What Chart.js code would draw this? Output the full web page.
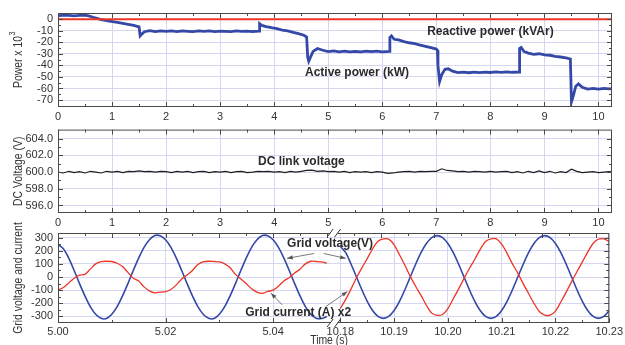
<!DOCTYPE html>
<html>
<head>
<meta charset="utf-8">
<script src="https://cdn.jsdelivr.net/npm/chart.js@4/dist/chart.umd.min.js"></script>
<style>
  body { margin: 0; background: #fff; width: 625px; height: 345px; position: relative; overflow: hidden; }
  canvas { position: absolute; left: 0; }
</style>
</head>
<body>
<canvas id="powerChart" width="625" height="125" style="top:0"></canvas>
<canvas id="dcChart" width="625" height="112" style="top:118px"></canvas>
<canvas id="gridChart" width="625" height="125" style="top:220px"></canvas>

<script>
// ===== top panel: power (x 10^3) =====
const powerTime = [
  0, 0.15, 0.3, 0.45, 0.55, 0.65, 0.8, 0.95, 1.1, 1.25, 1.4, 1.5, 1.52, 1.55, 1.6, 1.7,
  1.8, 1.9, 2.0, 2.1, 2.2, 2.3, 2.4, 2.5, 2.6, 2.7, 2.8, 2.9, 3.0, 3.1, 3.2, 3.3, 3.4, 3.5, 3.6, 3.72,
  3.73, 3.77, 3.85, 3.95, 4.05, 4.15, 4.25, 4.35, 4.45, 4.55, 4.6, 4.62, 4.64, 4.68, 4.72, 4.8, 4.9,
  5.0, 5.1, 5.2, 5.3, 5.4, 5.5, 5.6, 5.7, 5.8, 5.9, 6.0, 6.13, 6.14, 6.17, 6.22, 6.3, 6.4, 6.5,
  6.6, 6.7, 6.8, 6.9, 7.0, 7.02, 7.03, 7.06, 7.1, 7.16, 7.22, 7.3, 7.4, 7.5, 7.6, 7.7, 7.8, 7.9,
  8.0, 8.1, 8.2, 8.3, 8.4, 8.53, 8.54, 8.57, 8.62, 8.7, 8.8, 8.9, 9.0, 9.1, 9.2, 9.3, 9.4, 9.48,
  9.5, 9.53, 9.58, 9.63, 9.7, 9.8, 9.9, 10.0, 10.1, 10.2, 10.25
];
const activePower = [
  3.0, 3.4, 2.8, 3.3, 3.0, 1.5, -0.5, -1.8, -3.0, -4.2, -5.5, -6.8, -14.5, -13.0, -11.0, -10.0,
  -10.8, -10.2, -10.7, -10.3, -10.8, -10.2, -10.6, -10.9, -10.3, -10.7, -10.2, -10.8, -10.4, -10.6, -10.9, -10.3, -10.7, -10.4, -10.8, -10.5,
  -4.0, -5.5, -6.5, -7.5, -8.3, -9.5, -10.3, -11.5, -12.6, -14.0, -15.5, -33.0, -36.5, -32.0, -28.0, -25.5, -27.0,
  -28.2, -27.6, -28.3, -27.8, -28.4, -27.9, -28.3, -27.7, -28.2, -27.8, -28.3, -28.0, -16.0, -14.5, -17.5, -18.0, -19.5, -20.5,
  -21.3, -22.5, -23.6, -24.8, -26.0, -27.0, -40.0, -54.0, -48.0, -43.5, -43.0, -45.0, -46.3, -45.8, -46.4, -45.9, -46.3, -45.8,
  -46.2, -45.7, -46.1, -45.6, -46.0, -45.8, -25.5, -24.5, -28.0, -29.5, -30.5, -30.0, -31.0, -31.3, -32.2, -32.8, -33.5, -34.5,
  -71.5, -67.0, -58.0, -56.0, -59.0, -60.6, -60.0, -60.5, -60.0, -60.4, -60.2
];
const reactiveTime = [0, 2.5, 5, 7.5, 10.25];
const reactivePower = [-0.2, -0.2, -0.2, -0.2, -0.2];
const powerTicks = [0, -10, -20, -30, -40, -50, -60, -70];
const timeTicks = [0, 1, 2, 3, 4, 5, 6, 7, 8, 9, 10];

// ===== middle panel: DC link voltage, one sample every 0.1 s =====
const dcVoltage = [
  600.0, 599.9, 600.1, 599.95, 600.05, 599.9, 600.1, 600.0, 599.9, 600.1,
  600.0, 600.1, 599.95, 600.1, 600.05, 600.15, 600.05, 600.1, 600.0, 600.1,
  600.05, 599.95, 600.1, 600.0, 600.1, 599.95, 600.05, 600.1, 599.95, 600.05,
  600.0, 600.1, 599.95, 600.05, 600.1, 599.95, 600.0, 600.1, 600.05, 600.1,
  600.0, 600.05, 599.95, 600.1, 600.0, 600.1, 600.2, 600.25, 600.1, 600.15,
  600.05, 600.1, 600.0, 600.1, 599.95, 600.05, 600.0, 600.05, 599.95, 600.05,
  600.0, 599.85, 599.9, 600.0, 600.05, 600.1, 600.0, 600.1, 600.05, 600.1,
  600.1, 600.4, 600.2, 600.15, 600.05, 600.1, 600.0, 600.1, 600.05, 600.0,
  600.1, 600.0, 600.05, 600.1, 599.95, 600.05, 599.9, 600.1, 599.95, 600.15,
  599.95, 600.1, 599.9, 600.05, 599.95, 600.35, 600.1, 599.95, 600.0, 600.05,
  599.95, 600.0, 600.05, 600.0
];
const dcTime = dcVoltage.map((v, i) => Math.min(i * 0.1, 10.25));
const dcTicks = [604, 602, 600, 598, 596];

// ===== bottom panel: grid voltage / current (x2), two 50 ms windows, 1 ms samples =====
const gridVoltageA = [
  250, 215, 144, 50, -50, -144, -225, -283, -314, -316,
  -283, -225, -144, -50, 50, 144, 225, 283, 316, 314,
  283, 225, 144, 50, -50, -144, -225, -283, -314, -316,
  -283, -225, -144, -50, 50, 144, 225, 283, 316, 314,
  283, 225, 144, 50, -50, -144, -225, -283, -314, -316,
  -300
];
const gridCurrentA = [
  -100, -80, -45, -10, 15, 20, 60, 100, 118, 120,
  118, 105, 80, 35, -10, -30, -75, -105, -120, -115,
  -112, -95, -60, -15, 15, 50, 95, 115, 120, 118,
  115, 100, 70, 20, -15, -50, -90, -115, -125, -110,
  -100, -70, -30, -5, 30, 60, 100, 120, 118, 115,
  105
];
const gridVoltageB = [
  235, 185, 97, 0, -97, -185, -255, -300, -315, -300,
  -255, -185, -97, 0, 97, 185, 255, 300, 315, 300,
  255, 185, 97, 0, -97, -185, -255, -300, -315, -300,
  -255, -185, -97, 0, 97, 185, 255, 300, 315, 300,
  255, 185, 97, 0, -97, -185, -255, -300, -315, -300,
  -255
];
const gridCurrentB = [
  -240, -170, -90, -5, 70, 140, 215, 272, 290, 288,
  245, 170, 90, 5, -70, -140, -215, -275, -292, -285,
  -240, -165, -90, -10, 65, 135, 210, 270, 290, 290,
  250, 180, 100, 30, -50, -125, -200, -262, -290, -290,
  -260, -190, -115, -35, 40, 115, 190, 255, 288, 290,
  270
];
const gridTimeA = gridVoltageA.map((v, i) => 5.0 + i * 0.001);
const gridTimeB = gridVoltageB.map((v, i) => 10.18 + i * 0.001);
const gridTicks = [300, 200, 100, 0, -100, -200, -300];
const gridTickTimes = [5.00, 5.02, 5.04, 10.18, 10.19, 10.20, 10.21, 10.22, 10.23];

const BLUE = '#3448a8';
const RED = '#ee3527';
const GRID = '#d6d6f0';
const FRAME = '#4a4a4a';

Chart.defaults.font.family = "'Liberation Sans', Arial, sans-serif";
Chart.defaults.font.size = 11;
Chart.defaults.color = '#333';

// broken time axis of the bottom panel: 5.00-5.05 s, then 10.18-10.23 s
const brokenAxis = t => t < 7 ? (t - 5) * 100 : (t - 10.23) * 100 + 10.25;

function mids(vals) {
  const out = [];
  for (let i = 0; i < vals.length - 1; i++) out.push((vals[i] + vals[i + 1]) / 2);
  return out;
}

function pts(xs, ys, f) {
  return xs.map((x, i) => ({ x: f ? f(x) : x, y: ys[i] }));
}

function xAxis(ticks, labels, height, pad) {
  return {
    type: 'linear', min: 0, max: 10.25,
    afterBuildTicks: s => { s.ticks = ticks.map(v => ({ value: v })); },
    afterFit: s => { s.height = height; },
    grid: { color: GRID, drawTicks: false },
    border: { display: false },
    ticks: { padding: pad, maxRotation: 0, autoSkip: false, font: { size: 11 },
             callback: (v, i) => labels[i] }
  };
}

function yAxis(min, max, ticks, fmt) {
  return {
    type: 'linear', min, max,
    afterBuildTicks: s => { s.ticks = ticks.map(v => ({ value: v })); },
    afterFit: s => { s.width = 58; },
    grid: { color: GRID, drawTicks: false },
    border: { display: false },
    ticks: { padding: 5, autoSkip: false, font: { size: 11 }, callback: v => fmt ? fmt(v) : v }
  };
}

// frame, inward ticks, notes, arrows, axis titles
function decor(o) {
  return {
    id: 'decor',
    afterDraw(chart) {
      const { ctx, chartArea: a } = chart;
      const xs = chart.scales.x, ys = chart.scales.y;
      ctx.save();
      ctx.strokeStyle = FRAME;
      ctx.lineWidth = 1;
      ctx.strokeRect(a.left + 0.5, a.top + 0.5, a.right - a.left - 1, a.bottom - a.top - 1);

      const tick = (vals, len, side) => vals.forEach(v => {
        ctx.beginPath();
        if (side === 'top' || side === 'bottom') {
          const x = Math.round(xs.getPixelForValue(v)) + 0.5;
          const y0 = side === 'top' ? a.top : a.bottom;
          ctx.moveTo(x, y0);
          ctx.lineTo(x, y0 + (side === 'top' ? len : -len));
        } else {
          const y = Math.round(ys.getPixelForValue(v)) + 0.5;
          const x0 = side === 'left' ? a.left : a.right;
          ctx.moveTo(x0, y);
          ctx.lineTo(x0 + (side === 'left' ? len : -len), y);
        }
        ctx.stroke();
      });
      tick(o.top, 5, 'top'); tick(mids(o.top), 3, 'top');
      tick(o.bottom, 5, 'bottom'); tick(o.bottomMinor, 3, 'bottom');
      ['left', 'right'].forEach(s => { tick(o.y, 5, s); tick(mids(o.y), 3, s); });

      // break marks
      if (o.breaks) {
        [a.top, a.bottom].forEach(yb => {
          ctx.fillStyle = '#fff';
          const b0 = xs.getPixelForValue(o.breaks[0]), b1 = xs.getPixelForValue(o.breaks[1]);
          ctx.fillRect(b0, yb - 2, b1 - b0, 4);
          ctx.strokeStyle = '#333';
          [b0, b1].forEach(bx => {
            ctx.beginPath();
            ctx.moveTo(bx - 3, yb + 4);
            ctx.lineTo(bx + 3, yb - 4);
            ctx.stroke();
          });
        });
      }

      // arrows
      ctx.strokeStyle = '#555';
      ctx.fillStyle = '#555';
      ctx.lineWidth = 0.8;
      (o.arrows || []).forEach(([x1, y1, x2, y2]) => {
        const p1 = [xs.getPixelForValue(x1), ys.getPixelForValue(y1)];
        const p2 = [xs.getPixelForValue(x2), ys.getPixelForValue(y2)];
        const ang = Math.atan2(p2[1] - p1[1], p2[0] - p1[0]);
        ctx.beginPath();
        ctx.moveTo(p1[0], p1[1]);
        ctx.lineTo(p2[0], p2[1]);
        ctx.stroke();
        ctx.beginPath();
        ctx.moveTo(p2[0], p2[1]);
        ctx.lineTo(p2[0] - 6 * Math.cos(ang - 0.35), p2[1] - 6 * Math.sin(ang - 0.35));
        ctx.lineTo(p2[0] - 6 * Math.cos(ang + 0.35), p2[1] - 6 * Math.sin(ang + 0.35));
        ctx.closePath();
        ctx.fill();
      });

      // notes
      ctx.fillStyle = '#2a2a2a';
      ctx.font = "bold 12px 'Liberation Sans', Arial, sans-serif";
      ctx.textAlign = 'left';
      ctx.textBaseline = 'middle';
      (o.notes || []).forEach(n => ctx.fillText(n.text, xs.getPixelForValue(n.x), ys.getPixelForValue(n.y)));

      // rotated, condensed y title
      const font = "13px 'Liberation Sans', Arial, sans-serif";
      const supFont = "9px 'Liberation Sans', Arial, sans-serif";
      ctx.fillStyle = '#333';
      ctx.translate(18, (a.top + a.bottom) / 2);
      ctx.rotate(-Math.PI / 2);
      ctx.scale(0.8, 1);
      ctx.textAlign = 'left';
      ctx.font = font;
      const w = ctx.measureText(o.yTitle).width;
      let sw = 0;
      if (o.sup) { ctx.font = supFont; sw = ctx.measureText(o.sup).width; }
      ctx.font = font;
      ctx.fillText(o.yTitle, -(w + sw) / 2, 0);
      if (o.sup) {
        ctx.font = supFont;
        ctx.fillText(o.sup, -(w + sw) / 2 + w + 0.5, -5);
      }
      ctx.restore();

      if (o.xTitle) {
        ctx.save();
        ctx.fillStyle = '#333';
        ctx.font = font;
        ctx.textAlign = 'center';
        ctx.textBaseline = 'middle';
        ctx.translate(xs.getPixelForValue(o.xTitle.x), a.bottom + 17);
        ctx.scale(0.8, 1);
        ctx.fillText(o.xTitle.text, 0, 0);
        ctx.restore();
      }
    }
  };
}

const baseOptions = (padTop, x, y) => ({
  responsive: false,
  animation: false,
  layout: { padding: { top: padTop, right: 13, left: 0, bottom: 0 } },
  elements: { point: { radius: 0 }, line: { tension: 0 } },
  plugins: { legend: { display: false }, tooltip: { enabled: false } },
  scales: { x, y }
});

// ----- power -----
new Chart(document.getElementById('powerChart'), {
  type: 'line',
  data: {
    datasets: [
      { data: pts(reactiveTime, reactivePower), borderColor: RED, borderWidth: 2 },
      { data: pts(powerTime, activePower), borderColor: BLUE, borderWidth: 2.8 }
    ]
  },
  options: baseOptions(13,
    xAxis(timeTicks, timeTicks.map(String), 18, 3),
    yAxis(-76, 5.2, powerTicks)),
  plugins: [decor({
    top: timeTicks, bottom: timeTicks, bottomMinor: mids(timeTicks), y: powerTicks,
    yTitle: 'Power x 10', sup: '3',
    notes: [
      { text: 'Reactive power (kVAr)', x: 6.83, y: -11 },
      { text: 'Active power (kW)', x: 4.57, y: -46.6 }
    ]
  })]
});

// ----- DC link -----
new Chart(document.getElementById('dcChart'), {
  type: 'line',
  data: {
    datasets: [
      { data: pts(dcTime, dcVoltage), borderColor: '#1e1e1e', borderWidth: 1.2 }
    ]
  },
  options: baseOptions(5,
    xAxis(timeTicks, timeTicks.map(String), 17, 3),
    yAxis(595.1, 605.1, dcTicks, v => v.toFixed(1))),
  plugins: [decor({
    top: timeTicks, bottom: timeTicks, bottomMinor: mids(timeTicks), y: dcTicks,
    yTitle: 'DC Voltage (V)',
    notes: [{ text: 'DC link voltage', x: 3.7, y: 601.25 }]
  })]
});

// ----- grid voltage / current -----
const gridTickPos = gridTickTimes.map(brokenAxis);
new Chart(document.getElementById('gridChart'), {
  type: 'line',
  data: {
    datasets: [
      { data: pts(gridTimeA, gridCurrentA, brokenAxis), borderColor: RED, borderWidth: 1.3, tension: 0.25 },
      { data: pts(gridTimeB, gridCurrentB, brokenAxis), borderColor: RED, borderWidth: 1.3, tension: 0.25 },
      { data: pts(gridTimeA, gridVoltageA, brokenAxis), borderColor: BLUE, borderWidth: 1.6, tension: 0.3 },
      { data: pts(gridTimeB, gridVoltageB, brokenAxis), borderColor: BLUE, borderWidth: 1.6, tension: 0.3 }
    ]
  },
  options: baseOptions(13,
    xAxis(gridTickPos, gridTickTimes.map(t => t.toFixed(2)), 22, 2),
    yAxis(-350, 335, gridTicks)),
  plugins: [decor({
    top: timeTicks, bottom: gridTickPos,
    bottomMinor: mids(gridTickPos.slice(0, 3)).concat(mids(gridTickPos.slice(3))),
    y: gridTicks,
    yTitle: 'Grid voltage and current',
    xTitle: { text: 'Time (s)', x: 5.04 },
    breaks: [5.06, 5.2],
    notes: [
      { text: 'Grid voltage(V)', x: 4.26, y: 250 },
      { text: 'Grid current (A) x2', x: 3.48, y: -273 }
    ],
    arrows: [
      [4.76, 179, 4.26, 142],
      [4.94, 179, 5.35, 142],
      [4.17, -212, 3.96, -123],
      [4.98, -225, 5.38, -111]
    ]
  })]
});
</script>
</body>
</html>
